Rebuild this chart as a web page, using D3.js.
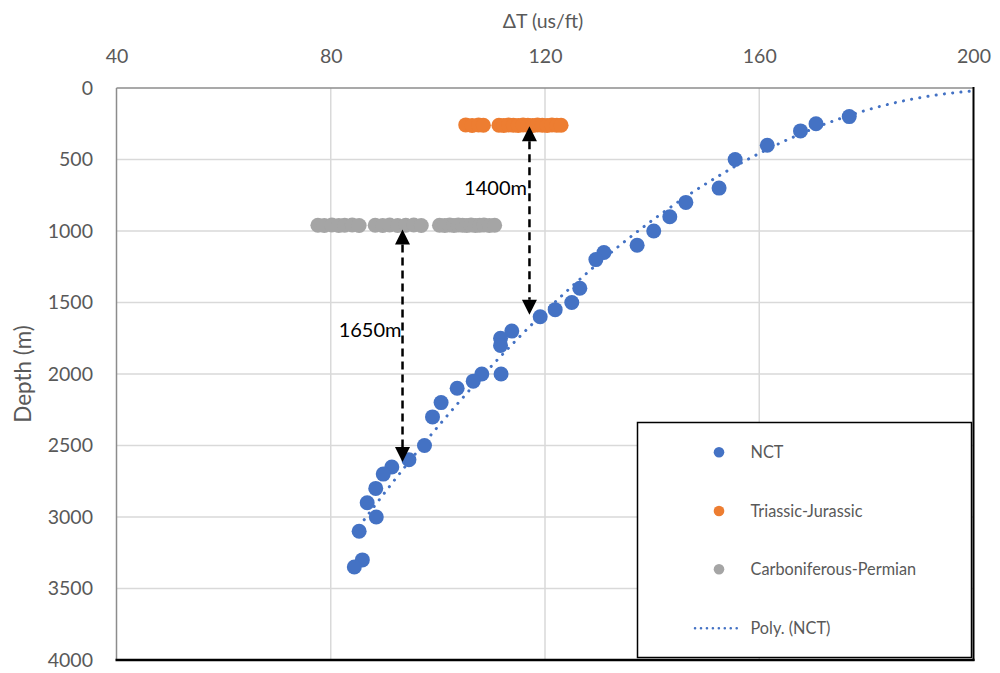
<!DOCTYPE html>
<html>
<head>
<meta charset="utf-8">
<script src="https://cdn.jsdelivr.net/npm/d3@7"></script>
<style>
  body { margin: 0; background: #fff; }
  svg { display: block; font-family: Lato, "Open Sans", sans-serif; }
</style>
</head>
<body>
<svg id="chart" width="1000" height="673"></svg>
<script>
// Axis ticks
const xTicks = [40, 80, 120, 160, 200];
const yTicks = [0, 500, 1000, 1500, 2000, 2500, 3000, 3500, 4000];

// Normal compaction trend (NCT) samples: sonic transit time vs depth
const nctDT = [176.8, 170.6, 167.7, 161.5, 155.5, 152.5, 146.3, 143.3, 140.3, 137.2,
               131.0, 129.5, 126.5, 125.0, 121.9, 119.1, 113.8, 111.7, 111.7, 111.8,
               108.2, 106.6, 103.6, 100.6, 99.0, 97.5, 94.6, 91.4, 89.8, 88.4,
               86.8, 88.5, 85.3, 85.9, 84.4];
const nctDepth = [200, 250, 300, 400, 500, 700, 800, 900, 1000, 1100,
                  1150, 1200, 1400, 1500, 1550, 1600, 1700, 1750, 1800, 2000,
                  2000, 2050, 2100, 2200, 2300, 2500, 2600, 2650, 2700, 2800,
                  2900, 3000, 3100, 3300, 3350];

// Second-order polynomial trend of NCT: depth = c0 + c1*ΔT + c2*ΔT²
const trendCoef = [8907.3, -86.35, 0.2096];
const trendEndDT = 200;

// Triassic-Jurassic samples
const tjDT = [105.2, 106.4, 107.6, 108.5, 111.4, 112.3, 113.2, 114.1, 115.0, 115.9,
              116.8, 117.7, 118.6, 119.5, 120.4, 121.3, 122.2, 123.0];
const tjDepth = [258, 262, 258, 260, 260, 262, 258, 260, 262, 258,
                 260, 262, 258, 260, 262, 258, 260, 260];

// Carboniferous-Permian samples
const cpDT = [77.6, 78.8, 80.2, 81.5, 82.6, 84.0, 85.3,
              88.3, 89.7, 91.0, 92.5, 94.0, 95.5, 96.9,
              100.3, 101.3, 102.2, 103.0, 103.8, 104.6, 105.4, 106.2, 107.0, 107.8, 108.6, 109.6, 110.6];
const cpDepth = [960, 962, 958, 962, 960, 958, 962,
                 960, 962, 958, 962, 960, 958, 962,
                 960, 962, 958, 962, 958, 960, 962, 958, 962, 960, 958, 962, 960];

// Offset annotations: ΔT position, top depth, bottom depth, label
const arrowDT = [93.4, 117.1];
const arrowTop = [990, 268];
const arrowBottom = [2615, 1585];
const arrowLabels = ["1650m", "1400m"];

// Legend entries
const legendNames = ["NCT", "Triassic-Jurassic", "Carboniferous-Permian", "Poly. (NCT)"];

const colors = { nct: "#4472C4", tj: "#ED7D31", cp: "#A5A5A5" };

const svg = d3.select("#chart");
const x = d3.scaleLinear().domain([40, 200]).range([116.5, 973.5]);
const y = d3.scaleLinear().domain([0, 4000]).range([88, 660]);

// Gridlines
const grid = svg.append("g");
grid.selectAll("line.v").data(xTicks.slice(1, -1)).join("line")
  .attr("x1", d => x(d)).attr("x2", d => x(d))
  .attr("y1", y(0)).attr("y2", y(4000))
  .attr("stroke", "#d9d9d9").attr("stroke-width", 1.5);
grid.selectAll("line.h").data(yTicks.slice(1, -1)).join("line")
  .attr("x1", x(40)).attr("x2", x(200))
  .attr("y1", d => y(d)).attr("y2", d => y(d))
  .attr("stroke", "#d9d9d9").attr("stroke-width", 1.5);

// Axes (labels only, frame drawn separately)
const xAxis = svg.append("g").attr("transform", `translate(0,${y(0)})`)
  .call(d3.axisTop(x).tickValues(xTicks).tickFormat(d3.format("d")).tickSize(0).tickPadding(25));
const yAxis = svg.append("g").attr("transform", `translate(${x(40)},0)`)
  .call(d3.axisLeft(y).tickValues(yTicks).tickFormat(d3.format("d")).tickSize(0).tickPadding(23.5));
[xAxis, yAxis].forEach(a => {
  a.select(".domain").remove();
  a.selectAll("text").attr("fill", "#595959").style("font-size", "19.5px")
    .style("font-family", "Lato, 'Open Sans', sans-serif");
});

// Frame: left/top grey, right/bottom black
svg.append("line").attr("x1", x(40)).attr("x2", x(40)).attr("y1", y(0)).attr("y2", y(4000))
  .attr("stroke", "#8c8c8c").attr("stroke-width", 1.5);
svg.append("line").attr("x1", x(40)).attr("x2", x(200)).attr("y1", y(0)).attr("y2", y(0))
  .attr("stroke", "#8c8c8c").attr("stroke-width", 1.5);
svg.append("line").attr("x1", x(200)).attr("x2", x(200)).attr("y1", y(0) - 1).attr("y2", y(4000) + 1)
  .attr("stroke", "#000").attr("stroke-width", 2);
svg.append("line").attr("x1", x(40) - 1).attr("x2", x(200) + 1).attr("y1", y(4000)).attr("y2", y(4000))
  .attr("stroke", "#000").attr("stroke-width", 2.5);

// Axis titles
svg.append("text").attr("x", (x(40) + x(200)) / 2 - 2).attr("y", 28)
  .attr("text-anchor", "middle").attr("fill", "#595959").style("font-size", "19.5px")
  .text("ΔT (us/ft)");
svg.append("text").attr("transform", `translate(30.5,${(y(0) + y(4000)) / 2}) rotate(-90)`)
  .attr("text-anchor", "middle").attr("fill", "#595959").style("font-size", "22.5px")
  .text("Depth (m)");

// Polynomial trend line, from the shallowest-slowness sample out to the axis end
const trend = v => trendCoef.reduce((s, c, i) => s + c * Math.pow(v, i), 0);
const trendPts = d3.range(d3.min(nctDT), trendEndDT + 0.001, 0.5).map(v => [v, trend(v)]);

svg.append("path")
  .datum(trendPts)
  .attr("d", d3.line().x(d => x(d[0])).y(d => y(d[1])))
  .attr("fill", "none").attr("stroke", colors.nct).attr("stroke-width", 3)
  .attr("stroke-linecap", "round").attr("stroke-dasharray", "0.1 8.2");

// Scatter series
function scatter(xs, ys, color) {
  svg.append("g").selectAll("circle").data(xs.map((v, i) => [v, ys[i]])).join("circle")
    .attr("cx", d => x(d[0])).attr("cy", d => y(d[1])).attr("r", 7.5)
    .attr("fill", color);
}
scatter(cpDT, cpDepth, colors.cp);
scatter(tjDT, tjDepth, colors.tj);
scatter(nctDT, nctDepth, colors.nct);

// Offset arrows
const head = 15, halfW = 7.5;
arrowDT.forEach((v, i) => {
  const ax = x(v), yt = y(arrowTop[i]), yb = y(arrowBottom[i]);
  const g = svg.append("g");
  g.append("line").attr("x1", ax).attr("x2", ax).attr("y1", yt + head).attr("y2", yb - head)
    .attr("stroke", "#000").attr("stroke-width", 2.5).attr("stroke-dasharray", "8 5");
  g.append("path").attr("d", `M${ax},${yt} L${ax - halfW},${yt + head} L${ax + halfW},${yt + head} Z`).attr("fill", "#000");
  g.append("path").attr("d", `M${ax},${yb} L${ax - halfW},${yb - head} L${ax + halfW},${yb - head} Z`).attr("fill", "#000");
});
svg.append("text").attr("x", x(arrowDT[0]) - 1).attr("y", 337).attr("text-anchor", "end")
  .attr("fill", "#000").style("font-size", "20px").text(arrowLabels[0]);
svg.append("text").attr("x", x(arrowDT[1]) - 2.5).attr("y", 195).attr("text-anchor", "end")
  .attr("fill", "#000").style("font-size", "20px").text(arrowLabels[1]);

// Legend
const lg = svg.append("g");
lg.append("rect").attr("x", 637.5).attr("y", 422.5).attr("width", 334).attr("height", 235)
  .attr("fill", "#fff").attr("stroke", "#000").attr("stroke-width", 1.5);
const legendY = [452.3, 511, 569.3, 628.3];
const legendColors = [colors.nct, colors.tj, colors.cp];
legendColors.forEach((c, i) => {
  lg.append("circle").attr("cx", 719).attr("cy", legendY[i]).attr("r", 5.3).attr("fill", c);
});
lg.append("line").attr("x1", 695).attr("x2", 742).attr("y1", legendY[3]).attr("y2", legendY[3])
  .attr("stroke", colors.nct).attr("stroke-width", 2.5).attr("stroke-linecap", "round")
  .attr("stroke-dasharray", "0.1 5.85");
legendNames.forEach((name, i) => {
  lg.append("text").attr("x", 750.5).attr("y", legendY[i]).attr("dy", "0.36em")
    .attr("fill", "#595959").style("font-size", "16.3px").text(name);
});
</script>
</body>
</html>
